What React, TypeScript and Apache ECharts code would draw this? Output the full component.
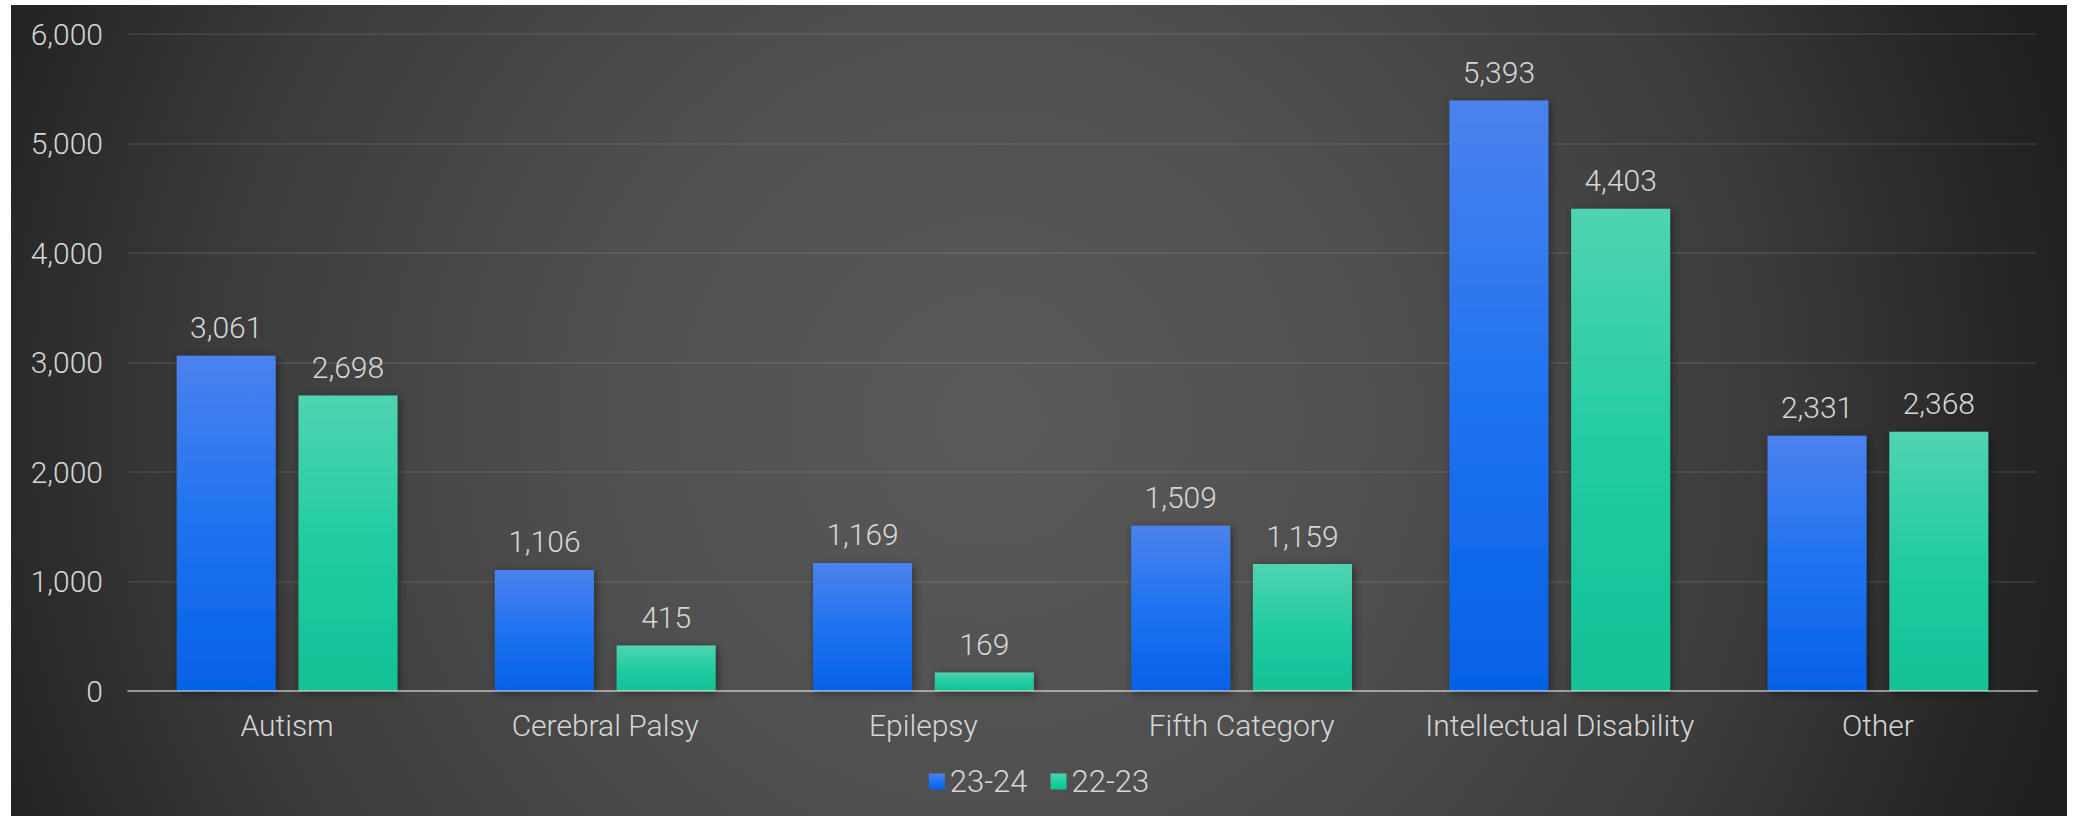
import React, { useEffect, useRef } from "react";
import * as echarts from "echarts";

const categories = ["Autism", "Cerebral Palsy", "Epilepsy", "Fifth Category", "Intellectual Disability", "Other"];
const seriesNames = ["23-24", "22-23"];
const values2324 = [3061, 1106, 1169, 1509, 5393, 2331];
const values2223 = [2698, 415, 169, 1159, 4403, 2368];
const yTicks = { min: 0, max: 6000, interval: 1000 };

const FONT = "Roboto";
const TEXT = "#d6d6d6";

const fmt = (v: number) => Number(v).toLocaleString("en-US");

export default function App() {
  const ref = useRef<HTMLDivElement>(null);
  useEffect(() => {
    if (!ref.current) return;
    const chart = echarts.init(ref.current, undefined, { renderer: "svg" });
    const blue = new echarts.graphic.LinearGradient(0, 0, 0, 1, [
      { offset: 0, color: "#4b82ee" },
      { offset: 0.5, color: "#1f73f0" },
      { offset: 1, color: "#0561e6" },
    ]);
    const green = new echarts.graphic.LinearGradient(0, 0, 0, 1, [
      { offset: 0, color: "#4fd4b1" },
      { offset: 0.5, color: "#22cca2" },
      { offset: 1, color: "#12c197" },
    ]);
    const barStyle = (color: any) => ({
      color,
      shadowBlur: 8,
      shadowColor: "rgba(0,0,0,0.45)",
      shadowOffsetX: 2,
      shadowOffsetY: 2,
    });
    const label = {
      show: true,
      position: "top" as const,
      distance: 13,
      color: TEXT,
      fontFamily: FONT,
      fontWeight: 300,
      fontSize: 30,
      formatter: (p: any) => fmt(p.value),
    };
    chart.setOption({
      animation: false,
      backgroundColor: "#ffffff",
      graphic: [
        {
          type: "rect",
          z: -10,
          silent: true,
          shape: { x: 11, y: 5, width: 2056, height: 811 },
          style: {
            fill: new echarts.graphic.RadialGradient(
              990,
              420,
              1120,
              [
                { offset: 0, color: "#5a5a5a" },
                { offset: 0.36, color: "#4f4f4f" },
                { offset: 0.7, color: "#3b3b3b" },
                { offset: 0.82, color: "#2f2f2f" },
                { offset: 0.9, color: "#272727" },
                { offset: 1, color: "#1f1f1f" },
              ],
              true
            ),
          },
        },
      ],
      grid: { left: 128, right: 41, top: 34, bottom: 125, containLabel: false },
      legend: {
        bottom: 14,
        left: "center",
        itemWidth: 16,
        itemHeight: 16,
        itemGap: 23,
        icon: "rect",
        textStyle: { color: TEXT, fontFamily: FONT, fontWeight: 300, fontSize: 31 },
        data: seriesNames,
      },
      xAxis: {
        type: "category",
        data: categories,
        z: 5,
        axisLine: { lineStyle: { color: "rgba(255,255,255,0.45)", width: 2 } },
        axisTick: { show: false },
        axisLabel: {
          interval: 0,
          color: TEXT,
          fontFamily: FONT,
          fontWeight: 300,
          fontSize: 30,
          margin: 19,
        },
      },
      yAxis: {
        type: "value",
        min: yTicks.min,
        max: yTicks.max,
        interval: yTicks.interval,
        axisLine: { show: false },
        axisTick: { show: false },
        splitLine: { lineStyle: { color: "rgba(255,255,255,0.08)", width: 2 } },
        axisLabel: {
          color: TEXT,
          fontFamily: FONT,
          fontWeight: 300,
          fontSize: 30,
          margin: 25,
          formatter: (v: number) => fmt(v),
        },
      },
      series: [
        {
          name: seriesNames[0],
          type: "bar",
          data: values2324,
          barWidth: 99,
          barGap: "23%",
          itemStyle: barStyle(blue),
          label,
        },
        {
          name: seriesNames[1],
          type: "bar",
          data: values2223,
          barWidth: 99,
          barGap: "23%",
          itemStyle: barStyle(green),
          label,
        },
      ],
    });
    return () => chart.dispose();
  }, []);
  return (
    <div
      ref={ref}
      style={{ position: "absolute", left: 0, top: 0, width: 2078, height: 816 }}
    />
  );
}
